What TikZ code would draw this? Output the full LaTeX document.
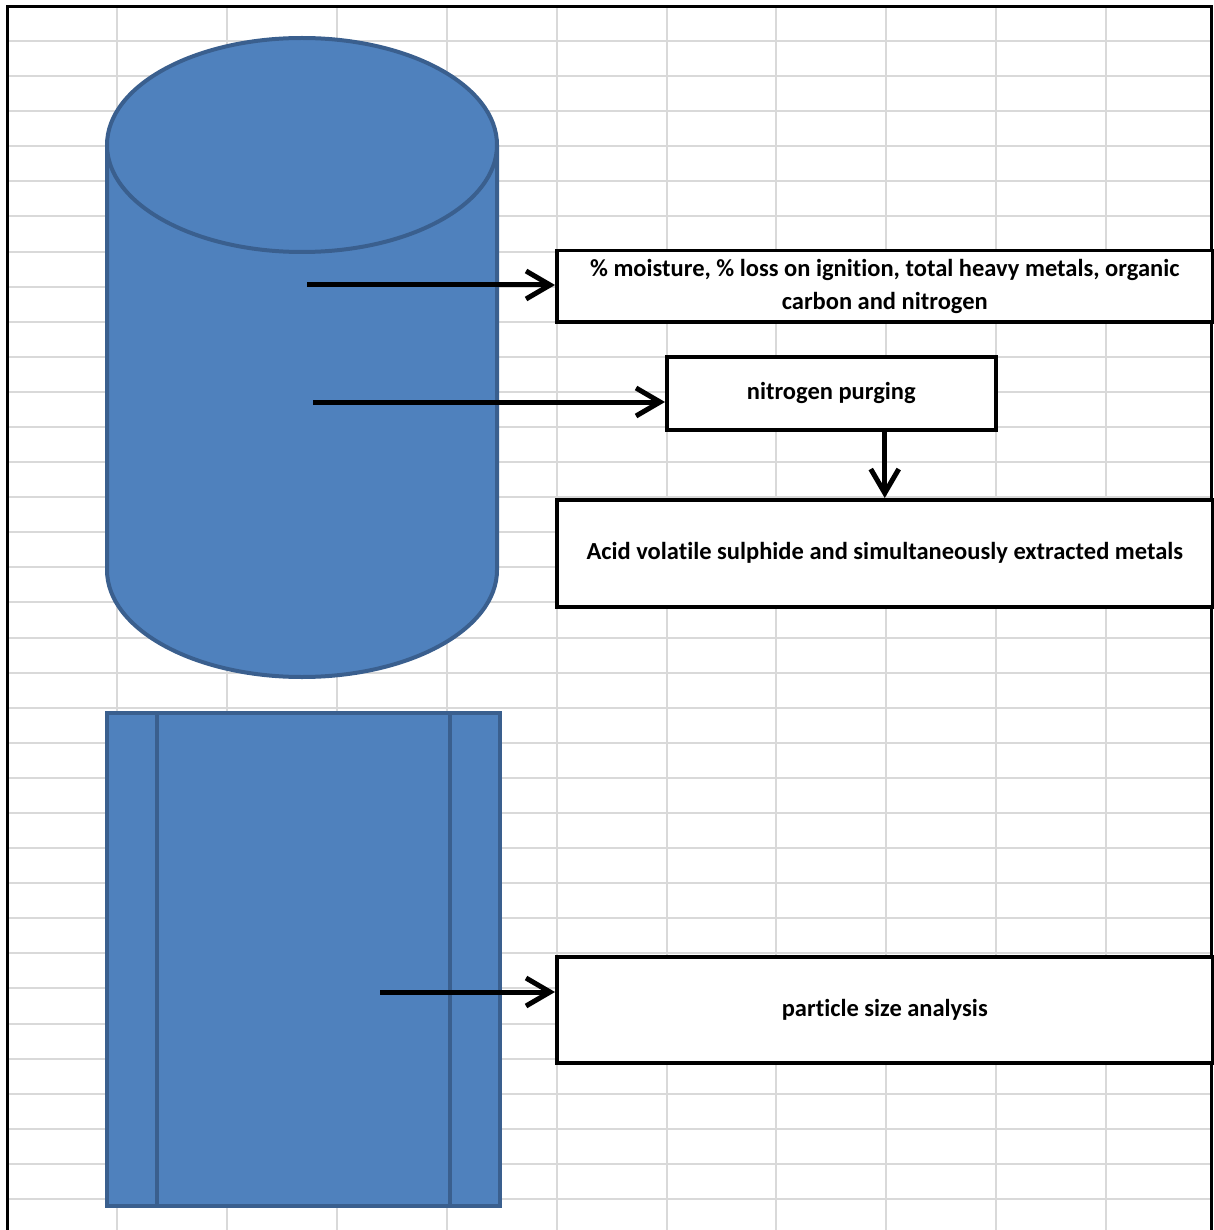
\documentclass[tikz,border=0pt]{standalone}
\usepackage{fontspec}
\setmainfont{Carlito}[Ligatures=NoCommon]
\usetikzlibrary{arrows.meta}
\definecolor{cylblue}{HTML}{4F81BD}
\definecolor{cyledge}{HTML}{3A5F8E}
\definecolor{gridgray}{HTML}{D9D9D9}

\begin{document}
\begin{tikzpicture}[x=1pt,y=-1pt,
    shapefill/.style={fill=cylblue,draw=cyledge,line width=4pt},
    stepbox/.style={draw,line width=3.5pt,fill=white,inner sep=0pt,anchor=north west,
      font=\bfseries\fontsize{24.5}{33}\selectfont,align=center},
    arr/.style={line width=5pt,-{Straight Barb[length=24pt,width=28pt]}}]
  \useasboundingbox (0,0) rectangle (1213,1230);
  % sheet grid
  \foreach \i in {0,...,9}
    \draw[gridgray,line width=2pt] ({117+109.9*\i},7) -- ({117+109.9*\i},1230);
  \foreach \j in {0,...,33}
    \draw[gridgray,line width=2pt] (7,{41+35.09*\j}) -- (1211,{41+35.09*\j});
  \draw[line width=3pt] (7,1230) -- (7,7) -- (1211,7) -- (1211,1230);
  % cylinder
  \filldraw[shapefill] (107,145) -- (107,570)
    arc[start angle=180,end angle=0,x radius=195,y radius=107] -- (497,145);
  \filldraw[shapefill] (302,145) ellipse[x radius=195,y radius=107];
  % predefined process shape
  \filldraw[shapefill] (107,713) rectangle (500,1206);
  \draw[cyledge,line width=4pt] (157,713) -- (157,1206);
  \draw[cyledge,line width=4pt] (450,713) -- (450,1206);
  % boxes
  \node[stepbox,minimum width=656,minimum height=71] (moist) at (555,249)
    {\% moisture, \% loss on ignition, total heavy metals, organic\\carbon and nitrogen};
  \node[stepbox,minimum width=329,minimum height=73] (nbox) at (665,355) {nitrogen purging};
  \node[stepbox,minimum width=656,minimum height=107] (avs) at (555,498)
    {Acid volatile sulphide and simultaneously extracted metals};
  \node[stepbox,minimum width=656,minimum height=106] (psa) at (555,955) {particle size analysis};
  % arrows
  \coordinate (c1) at (307,285);
  \coordinate (c2) at (313,402);
  \coordinate (c4) at (380,992);
  \draw[arr] (c1) -- (c1 -| moist.west);
  \draw[arr] (c2) -- (c2 -| nbox.west);
  \draw[arr] (avs.north |- nbox.south) -- (avs.north);
  \draw[arr] (c4) -- (c4 -| psa.west);
\end{tikzpicture}
\end{document}
